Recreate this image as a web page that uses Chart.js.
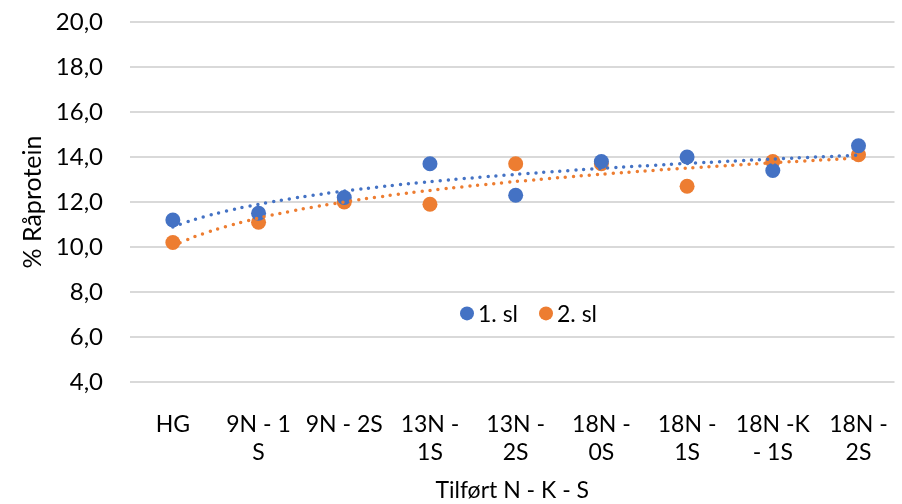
<!DOCTYPE html>
<html>
<head>
<meta charset="utf-8">
<script src="https://cdn.jsdelivr.net/npm/chart.js@4"></script>
<style>
  html, body { margin: 0; padding: 0; background: #fff; }
  #wrap { width: 902px; height: 504px; }
</style>
</head>
<body>
<div id="wrap"><canvas id="proteinChart" width="902" height="504"></canvas></div>
<script>
const categories = ['HG', ['9N - 1', 'S'], '9N - 2S', ['13N -', '1S'], ['13N -', '2S'], ['18N -', '0S'], ['18N -', '1S'], ['18N -K', '- 1S'], ['18N -', '2S']];
const slaatt1 = [11.2, 11.5, 12.2, 13.7, 12.3, 13.8, 14.0, 13.4, 14.5];
const slaatt2 = [10.2, 11.1, 12.0, 11.9, 13.7, 13.7, 12.7, 13.8, 14.1];
const seriesNames = ['1. sl', '2. sl'];
const yTicks = [4, 6, 8, 10, 12, 14, 16, 18, 20];
const blue = '#4472C4';
const orange = '#ED7D31';
const fontName = 'Lato, "Open Sans", sans-serif';
const fontSize = 23;

// logarithmic trendline like Excel (y = a + b*ln x)
function logTrend(values) {
  const n = values.length;
  let sx = 0, sy = 0, sxx = 0, sxy = 0;
  values.forEach((v, i) => {
    const lx = Math.log(i + 1);
    sx += lx; sy += v; sxx += lx * lx; sxy += lx * v;
  });
  const b = (n * sxy - sx * sy) / (n * sxx - sx * sx);
  const a = (sy - b * sx) / n;
  const pts = [];
  for (let x = 1; x <= n + 0.001; x += 0.25) {
    pts.push({ x: x, y: a + b * Math.log(x) });
  }
  return pts;
}

const toPoints = arr => arr.map((v, i) => ({ x: i + 1, y: v }));

const legendPlugin = {
  id: 'midLegend',
  afterDraw(chart) {
    const { ctx } = chart;
    const y = chart.scales.y.getPixelForValue(7.05);
    ctx.save();
    ctx.font = fontSize + 'px ' + fontName;
    ctx.textBaseline = 'middle';
    let x = 467;
    [blue, orange].forEach((c, i) => {
      ctx.beginPath();
      ctx.arc(x, y, 7, 0, Math.PI * 2);
      ctx.fillStyle = c;
      ctx.fill();
      ctx.fillStyle = '#000';
      ctx.fillText(seriesNames[i], x + 11, y + 1);
      x += 79;
    });
    ctx.restore();
  }
};

Chart.register(legendPlugin);

const chart = new Chart(document.getElementById('proteinChart').getContext('2d'), {
  type: 'scatter',
  data: {
    datasets: [
      { label: seriesNames[0] + ' trend', type: 'line', data: logTrend(slaatt1), borderColor: blue,
        borderWidth: 3.5, borderDash: [0, 8], borderCapStyle: 'round', pointRadius: 0, fill: false, tension: 0.3 },
      { label: seriesNames[1] + ' trend', type: 'line', data: logTrend(slaatt2), borderColor: orange,
        borderWidth: 3.5, borderDash: [0, 8], borderCapStyle: 'round', pointRadius: 0, fill: false, tension: 0.3 },
      { label: seriesNames[0], data: toPoints(slaatt1), backgroundColor: blue, borderColor: blue, pointRadius: 7.5, borderWidth: 0 },
      { label: seriesNames[1], data: toPoints(slaatt2), backgroundColor: orange, borderColor: orange, pointRadius: 7.5, borderWidth: 0 }
    ]
  },
  options: {
    responsive: false,
    animation: false,
    layout: { padding: { top: 22, right: 0, bottom: 0, left: 15 } },
    plugins: { legend: { display: false }, tooltip: { enabled: false } },
    scales: {
      x: {
        type: 'linear', min: 0.5, max: 9.42,
        grid: { display: false, drawTicks: false },
        border: { display: false },
        afterBuildTicks: scale => { scale.ticks = categories.map((c, i) => ({ value: i + 1 })); },
        afterFit: scale => { scale.height = 122; scale.paddingLeft = 0; scale.paddingRight = 0; },
        ticks: {
          autoSkip: false, maxRotation: 0, minRotation: 0, padding: 29,
          color: '#000', font: { family: fontName, size: fontSize, lineHeight: 1.2 },
          callback: (v, i) => categories[i]
        },
        title: { display: true, text: 'Tilført N - K - S', color: '#000', font: { family: fontName, size: fontSize }, padding: { top: 4, bottom: 0 } }
      },
      y: {
        min: 4, max: 20,
        grid: { color: '#d9d9d9', lineWidth: 2, drawTicks: false },
        border: { display: false },
        afterBuildTicks: scale => { scale.ticks = yTicks.map(v => ({ value: v })); },
        afterFit: scale => { scale.width = 115; scale.paddingTop = 0; scale.paddingBottom = 0; },
        ticks: {
          padding: 27, color: '#000', font: { family: fontName, size: fontSize + 1 },
          callback: v => v.toFixed(1).replace('.', ',')
        },
        title: { display: true, text: '% Råprotein', color: '#000', font: { family: fontName, size: 25 }, padding: { top: 3, bottom: 4 } }
      }
    }
  }
});
</script>
</body>
</html>
